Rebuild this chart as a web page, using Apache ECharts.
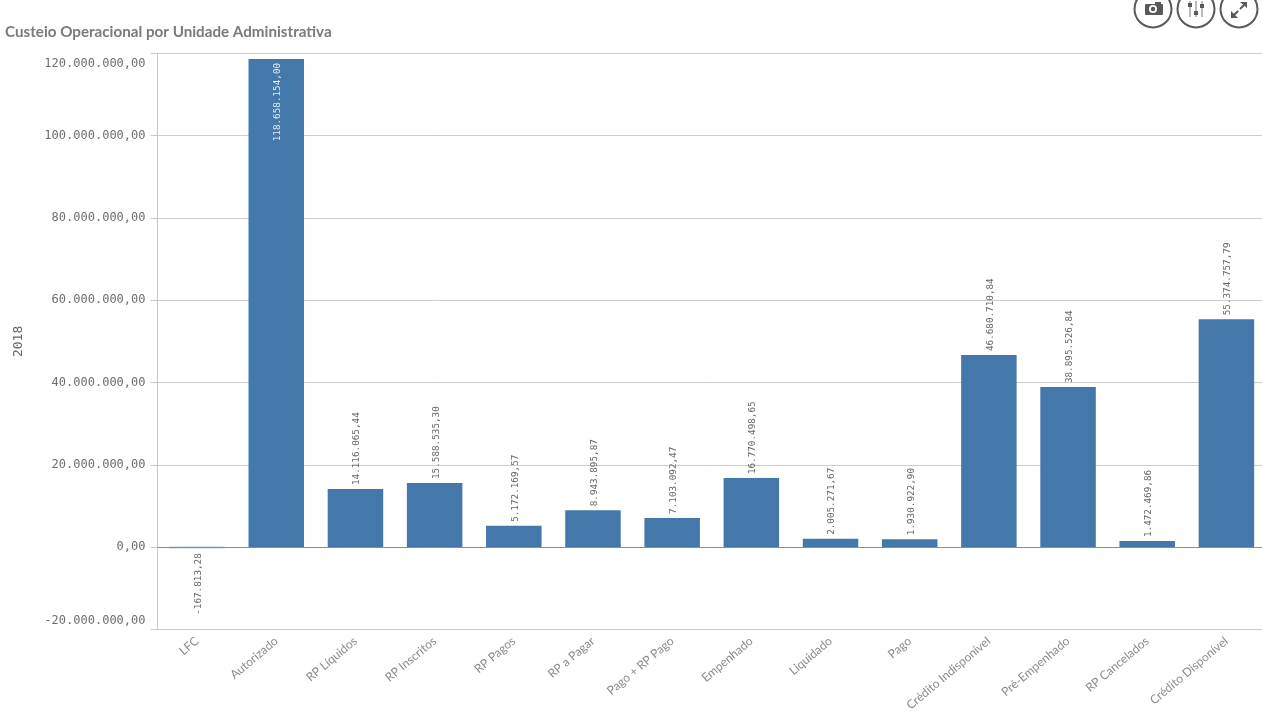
<!DOCTYPE html>
<html>
<head>
<meta charset="utf-8">
<title>Custeio Operacional por Unidade Administrativa</title>
<script src="https://cdn.jsdelivr.net/npm/echarts@6/dist/echarts.min.js"></script>
<style>
  html, body { margin: 0; padding: 0; background: #fff; overflow: hidden; }
  /* o grafico original passa um pouco da borda direita da janela */
  #wrap { width: 1262px; height: 720px; overflow: hidden; }
  #chart { width: 1266px; height: 720px; }
</style>
</head>
<body>
<div id="wrap"><div id="chart"></div></div>
<script>
const categories = ['LFC', 'Autorizado', 'RP Líquidos', 'RP Inscritos', 'RP Pagos', 'RP a Pagar', 'Pago + RP Pago',
  'Empenhado', 'Liquidado', 'Pago', 'Crédito Indisponível', 'Pré-Empenhado', 'RP Cancelados', 'Crédito Disponível']
const values = [-167813.28, 118658154.00, 14116065.44, 15588535.30, 5172169.57, 8943895.87, 7103092.47,
  16770498.65, 2005271.67, 1930922.90, 46680710.84, 38895526.84, 1472469.86, 55374757.79]
const seriesName = '2018'
const axisMin = -20000000
const axisMax = 120000000
const axisStep = 20000000

const monoFont = '"DejaVu Sans Mono", monospace'
const fmt = v => v.toLocaleString('pt-BR', { minimumFractionDigits: 2, maximumFractionDigits: 2 })

// rotulos: acima da barra, abaixo se negativo, dentro se a barra encosta no topo
const labelFor = v => {
  if (v < 0) return { position: 'bottom', align: 'right', distance: 5 }
  if (v > 100000000) return { position: 'insideTop', align: 'right', distance: 4, color: '#e6edf5' }
  return { position: 'top', align: 'left', distance: 4 }
}

// a barra negativa tem menos de 1px, sem borda some atras da linha do zero
const itemFor = v => v < 0 ? { borderColor: '#7fa3c7', borderWidth: 1.5 } : {}

const chart = echarts.init(document.getElementById('chart'), null, { renderer: 'canvas' })

// botoes do canto superior direito
const iconColor = '#595959'
const ring = cx => ({
  type: 'circle', shape: { cx: cx, cy: 9, r: 18.5 },
  style: { fill: '#fff', stroke: iconColor, lineWidth: 2 }, silent: true
})
const slider = (x, y) => [
  { type: 'line', shape: { x1: x, y1: 1, x2: x, y2: 17 }, style: { stroke: '#777777', lineWidth: 1 }, silent: true },
  { type: 'rect', shape: { x: x - 2, y: y, width: 4, height: 4 }, style: { fill: iconColor }, silent: true }
]
const icons = [
  ring(1153), ring(1196), ring(1239),
  { type: 'rect', shape: { x: 1145, y: 4, width: 18, height: 11, r: 1 }, style: { fill: iconColor }, silent: true },
  { type: 'rect', shape: { x: 1155, y: 2, width: 6, height: 3 }, style: { fill: iconColor }, silent: true },
  { type: 'circle', shape: { cx: 1153, cy: 9, r: 4 }, style: { fill: '#fff' }, silent: true },
  { type: 'circle', shape: { cx: 1153, cy: 9, r: 2.2 }, style: { fill: iconColor }, silent: true },
  ...slider(1190, 3), ...slider(1196, 11), ...slider(1202, 4),
  { type: 'polygon', shape: { points: [[1240, 2], [1247, 2], [1247, 8]] }, style: { fill: iconColor }, silent: true },
  { type: 'line', shape: { x1: 1240, y1: 9, x2: 1244, y2: 5 }, style: { stroke: iconColor, lineWidth: 2 }, silent: true },
  { type: 'polygon', shape: { points: [[1231, 11], [1231, 18], [1238, 18]] }, style: { fill: iconColor }, silent: true },
  { type: 'line', shape: { x1: 1238, y1: 11, x2: 1234, y2: 15 }, style: { stroke: iconColor, lineWidth: 2 }, silent: true }
]

chart.setOption({
  animation: false,
  backgroundColor: '#fff',
  title: {
    text: 'Custeio Operacional por Unidade Administrativa',
    left: 5, top: 25, padding: 0,
    textStyle: { fontFamily: 'Lato', fontSize: 15.2, fontWeight: 'bold', color: '#7a7a7a' }
  },
  grid: { left: 157.5, top: 53.4, bottom: 90.6, right: 0, containLabel: false },
  xAxis: {
    type: 'category',
    data: categories,
    axisLine: { onZero: false, lineStyle: { color: '#c8c8c8', width: 1 } },
    axisTick: { show: false },
    axisLabel: {
      interval: 0, rotate: 40, margin: 10,
      fontFamily: 'Lato', fontSize: 12, color: '#8a8a8a'
    }
  },
  yAxis: {
    type: 'value',
    min: axisMin, max: axisMax, interval: axisStep,
    name: seriesName,
    nameLocation: 'middle',
    nameGap: 132,
    nameRotate: 90,
    nameTextStyle: { fontFamily: monoFont, fontSize: 13, color: '#666666' },
    axisLine: { show: true, lineStyle: { color: '#c8c8c8', width: 1 } },
    axisTick: { show: true, length: 7, lineStyle: { color: '#c8c8c8' } },
    axisLabel: {
      margin: 12, lineHeight: 18, padding: [1, 0, 0, 0],
      fontFamily: monoFont, fontSize: 12, color: '#6e6e6e',
      formatter: v => fmt(v),
      verticalAlignMaxLabel: 'top',
      verticalAlignMinLabel: 'bottom'
    },
    splitLine: { show: true, lineStyle: { color: '#cccccc', width: 1 } }
  },
  series: [{
    name: seriesName,
    type: 'bar',
    barWidth: 55.5,
    data: values.map(v => ({ value: v, label: labelFor(v), itemStyle: itemFor(v) })),
    itemStyle: { color: '#4477aa' },
    label: {
      show: true, rotate: 90, verticalAlign: 'middle', offset: [0, 1.5],
      fontFamily: monoFont, fontSize: 9.3, color: '#666666',
      formatter: p => fmt(p.value)
    },
    markLine: {
      silent: true, symbol: 'none', label: { show: false },
      lineStyle: { color: '#8c8c8c', width: 1, type: 'solid' },
      data: [{ yAxis: 0 }]
    }
  }],
  graphic: icons
})

window.addEventListener('resize', () => chart.resize())
</script>
</body>
</html>
